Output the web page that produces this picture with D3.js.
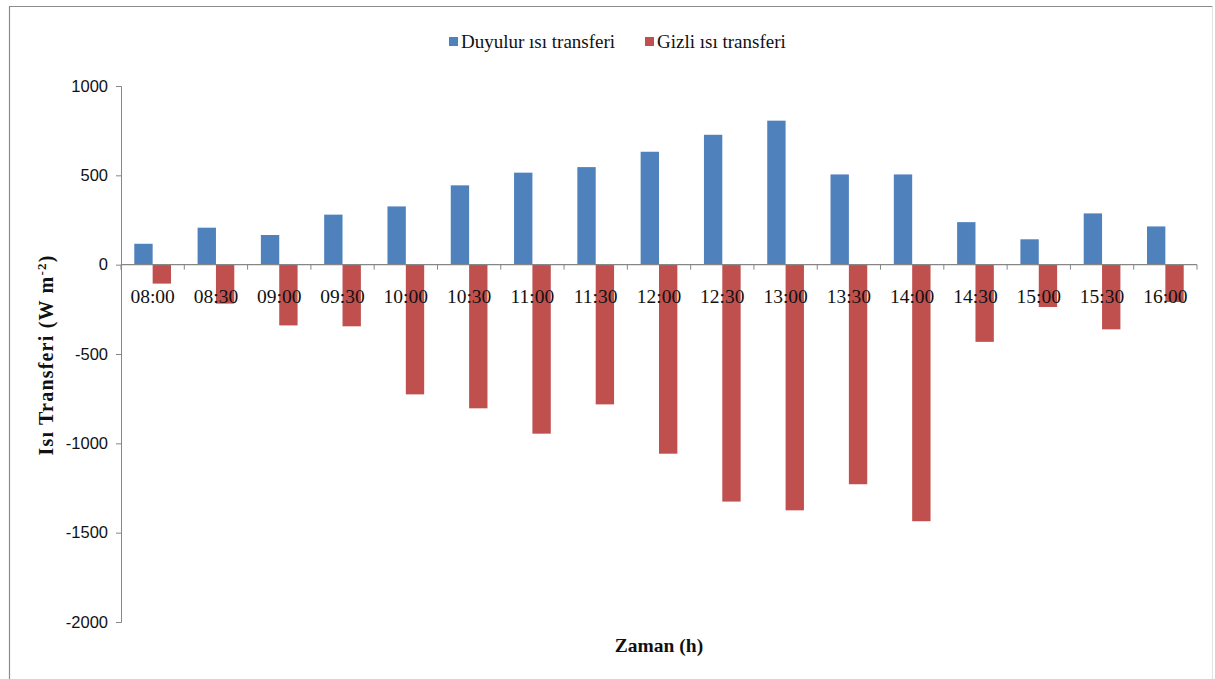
<!DOCTYPE html>
<html>
<head>
<meta charset="utf-8">
<script src="https://cdn.jsdelivr.net/npm/d3@7"></script>
<style>
  html, body { margin: 0; padding: 0; background: #fff; }
  svg { display: block; }
</style>
</head>
<body>
<script>
const categories = ["08:00","08:30","09:00","09:30","10:00","10:30","11:00","11:30","12:00","12:30","13:00","13:30","14:00","14:30","15:00","15:30","16:00"];
const duyulur = [117,207,166,280,326,444,515,546,632,727,806,505,505,238,142,287,214];
const gizli = [-106,-218,-340,-345,-726,-804,-946,-782,-1058,-1326,-1375,-1229,-1436,-432,-237,-362,-209];
const seriesNames = ["Duyulur ısı transferi", "Gizli ısı transferi"];
const seriesColors = ["#4F81BD", "#C0504D"];
const yTicks = [-2000, -1500, -1000, -500, 0, 500, 1000];

const W = 1215, H = 679;
const svg = d3.select("body").append("svg").attr("width", W).attr("height", H);

// outer border
svg.append("path").attr("d", "M9.5,679 L9.5,6.5 L1212.5,6.5")
  .attr("fill", "none").attr("stroke", "#8c8c8c").attr("stroke-width", 1.2);
svg.append("line").attr("x1", 1212.5).attr("x2", 1212.5).attr("y1", 6.5).attr("y2", 679)
  .attr("stroke", "#e2e2e2").attr("stroke-width", 1);

const x0 = d3.scaleBand().domain(categories).range([121, 1197]).paddingInner(0.42).paddingOuter(0.21);
const x1 = d3.scaleBand().domain([0, 1]).range([0, x0.bandwidth()]);
const y = d3.scaleLinear().domain([-2000, 1000]).range([622, 86]);

const rows = categories.map((c, i) => ({ c, vals: [duyulur[i], gizli[i]] }));

// bars
const g = svg.append("g");
rows.forEach(r => {
  r.vals.forEach((v, k) => {
    g.append("rect")
      .attr("x", x0(r.c) + x1(k))
      .attr("width", x1.bandwidth())
      .attr("y", Math.min(y(v), y(0)))
      .attr("height", Math.abs(y(v) - y(0)))
      .attr("fill", seriesColors[k]);
  });
});

// y axis
const yAxis = svg.append("g").attr("transform", "translate(121,0)")
  .call(d3.axisLeft(y).tickValues(yTicks).tickSize(5).tickFormat(d => String(d)));
yAxis.select(".domain").attr("stroke", "#868686");
yAxis.selectAll(".tick line").attr("stroke", "#868686");
yAxis.selectAll(".tick text")
  .attr("font-family", "Liberation Sans, Arial, sans-serif")
  .attr("font-size", "16.5px").attr("fill", "#111").attr("x", -13);

// x axis line at zero
const step = x0.step();
const bounds = d3.range(categories.length + 1).map(i => 121 + i * step);
const xa = svg.append("g");
xa.append("line").attr("x1", 121).attr("x2", 1197).attr("y1", y(0)).attr("y2", y(0))
  .attr("stroke", "#868686").attr("stroke-width", 1.2);
xa.selectAll("line.tk").data(bounds).enter().append("line").attr("class", "tk")
  .attr("x1", d => d).attr("x2", d => d).attr("y1", y(0)).attr("y2", y(0) + 5)
  .attr("stroke", "#868686");
xa.selectAll("text").data(categories).enter().append("text")
  .attr("x", d => x0(d) + x0.bandwidth() / 2)
  .attr("y", y(0) + 38)
  .attr("text-anchor", "middle")
  .attr("font-family", "Liberation Serif, Times New Roman, serif")
  .attr("font-size", "19.5px").attr("fill", "#111")
  .text(d => d);

// axis titles
svg.append("text").attr("x", 659).attr("y", 652).attr("text-anchor", "middle")
  .attr("font-family", "Liberation Serif, Times New Roman, serif")
  .attr("font-weight", "bold").attr("font-size", "19.5px").attr("fill", "#111")
  .text("Zaman (h)");

const yt = svg.append("text").attr("transform", "translate(53,355) rotate(-90)")
  .attr("text-anchor", "middle")
  .attr("font-family", "Liberation Serif, Times New Roman, serif")
  .attr("font-weight", "bold").attr("font-size", "20px").attr("letter-spacing", "1.2px").attr("fill", "#111");
yt.append("tspan").text("Isı Transferi (W m");
yt.append("tspan").attr("dy", -7).attr("font-size", "13px").text("-2");
yt.append("tspan").attr("dy", 7).text(")");

// legend
const legendX = [449, 645];
seriesNames.forEach((n, k) => {
  svg.append("rect").attr("x", legendX[k]).attr("y", 37).attr("width", 9).attr("height", 9)
    .attr("fill", seriesColors[k]);
  svg.append("text").attr("x", legendX[k] + 12).attr("y", 48)
    .attr("font-family", "Liberation Serif, Times New Roman, serif")
    .attr("font-size", "19px").attr("fill", "#111").text(n);
});
</script>
</body>
</html>
